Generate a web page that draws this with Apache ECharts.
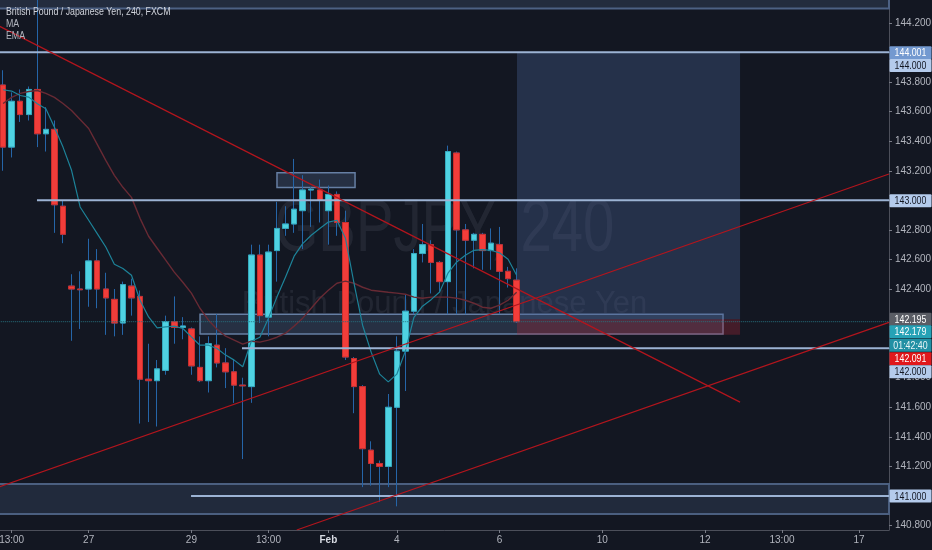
<!DOCTYPE html>
<html><head><meta charset="utf-8">
<script src="https://cdn.jsdelivr.net/npm/echarts@6/dist/echarts.min.js"></script>
<style>html,body{margin:0;padding:0;background:#131722;}#c{width:932px;height:550px;}</style>
</head><body><div id="c"></div>
<script>
const REG = "'Liberation Sans',Arial,sans-serif";

// x axis (104 candle slots, 4h bars)
const slotCount = 104;
const tickIndex = [1, 10, 22, 31, 38, 46, 58, 70, 82, 91, 100];
const tickLabels = ['13:00', '27', '29', '13:00', 'Feb', '4', '6', '10', '12', '13:00', '17'];

// candles
const open = [143.78,143.36,143.67,143.58,143.75,143.45,143.48,142.96,142.42,142.40,142.40,142.59,142.40,142.33,142.17,142.42,142.35,141.79,141.78,141.85,142.18,142.14,142.13,141.87,141.78,142.02,141.90,141.84,141.75,141.74,142.63,142.21,142.66,142.81,142.84,142.93,143.07,143.07,142.93,143.04,142.85,141.93,141.74,141.31,141.22,141.20,141.60,141.98,142.25,142.64,142.70,142.58,142.45,143.32,142.80,142.73,142.77,142.66,142.70,142.52,142.46];
const close = [143.36,143.67,143.58,143.75,143.45,143.48,142.97,142.77,142.40,142.395,142.59,142.40,142.34,142.17,142.43,142.34,141.79,141.78,141.86,142.18,142.14,142.15,141.88,141.78,142.03,141.90,141.84,141.75,141.745,142.63,142.22,142.65,142.81,142.84,142.94,143.07,143.075,143.00,143.04,142.85,141.94,141.74,141.32,141.22,141.20,141.60,141.98,142.25,142.64,142.70,142.58,142.45,143.33,142.80,142.73,142.77,142.66,142.71,142.52,142.47,142.179];
const low = [143.20,143.29,143.53,143.54,143.36,143.33,142.78,142.71,142.05,142.13,142.28,142.27,142.09,142.08,142.09,142.22,141.49,141.50,141.47,141.82,142.03,142.06,141.82,141.77,141.70,141.87,141.73,141.63,141.25,141.63,142.17,142.08,142.45,142.76,142.78,142.67,142.82,142.85,142.70,142.76,141.92,141.56,141.06,141.07,140.96,141.06,140.93,141.71,142.23,142.58,142.37,142.38,142.23,142.23,142.23,142.54,142.53,142.53,142.23,142.41,142.17];
const high = [143.88,143.73,143.75,143.77,144.40,143.63,143.54,143.00,142.50,142.52,142.74,142.67,142.51,142.40,142.45,142.47,142.39,142.03,141.92,142.22,142.35,142.21,142.14,142.08,142.08,142.23,142.00,141.92,141.80,142.70,142.70,142.70,142.99,142.96,143.28,143.17,143.09,143.14,143.10,143.06,142.93,141.94,141.75,141.37,141.24,141.69,142.08,142.36,142.67,142.84,142.73,142.59,143.37,143.33,142.84,142.78,142.78,142.81,142.82,142.55,142.54];

// indicators
const ma = [143.655,143.696,143.723,143.736,143.743,143.723,143.696,143.655,143.608,143.547,143.486,143.378,143.270,143.169,143.088,143.020,142.878,142.757,142.676,142.595,142.514,142.446,142.372,142.270,142.189,142.128,142.081,142.054,142.027,142.047,142.041,142.054,142.074,142.101,142.149,142.203,142.270,142.338,142.392,142.439,142.453,142.439,142.412,142.392,142.385,142.378,142.372,142.365,142.345,142.338,142.345,142.345,142.345,142.338,142.324,142.304,142.277,142.270,142.291,142.324,142.378];
const ema = [143.748,143.739,143.709,143.698,143.653,143.620,143.495,143.360,143.203,142.955,142.865,142.775,142.684,142.568,142.539,142.493,142.324,142.211,142.137,142.144,142.149,142.133,142.076,142.020,142.020,141.998,141.953,141.919,141.874,142.047,142.074,142.203,142.347,142.482,142.622,142.707,142.764,142.809,142.853,142.865,142.743,142.439,142.155,141.973,141.824,141.772,141.824,141.980,142.209,142.284,142.328,142.380,142.510,142.583,142.628,142.662,142.666,142.662,142.645,142.601,142.493];

// price scale
const yMin = 140.770, yMax = 144.355;
const priceTicks = [140.8, 141.0, 141.2, 141.4, 141.6, 141.8, 142.0, 142.4, 142.6, 142.8, 143.0, 143.2, 143.4, 143.6, 143.8, 144.0, 144.2];

// drawings (x in bar-index units, y in price)
const hLevels = [144.001, 143.000, 142.000, 141.000];
const hStarts = [-0.5, 3.96, 27.91, 21.96];
const trendLines = [
  [-0.5, 144.180, 86.10, 141.635],
  [-0.5, 141.061, 103.5, 143.178],
  [34.31, 140.770, 103.5, 142.174]
];
const boxes = [
  [-0.6, 103.5, 144.60, 144.297],
  [-0.6, 103.5, 141.081, 140.878],
  [23.01, 84.11, 142.230, 142.095],
  [32.00, 41.12, 143.187, 143.086],
  [60.04, 86.10, 144.000, 142.195],
  [60.04, 86.10, 142.195, 142.091]
];
const lastPrice = 142.179;
const tagValues = [144.001, 144.000, 143.000, 142.195, 142.179, 142.179, 142.091, 142.000, 141.000];
const tagTexts = ['144.001', '144.000', '143.000', '142.195', '142.179', '01:42:40', '142.091', '142.000', '141.000'];

// ---- styles ----
const boxStyles = [
  {fill: '#232c3e', stroke: '#4d6184', lineWidth: 2},
  {fill: '#212a3c', stroke: '#4b5f80', lineWidth: 2},
  {fill: 'rgba(110,140,185,0.22)', stroke: '#667fa4', lineWidth: 1.5},
  {fill: 'rgba(110,140,185,0.22)', stroke: '#667fa4', lineWidth: 1.5},
  {fill: 'rgba(72,98,150,0.35)', stroke: null, lineWidth: 0},
  {fill: 'rgba(175,40,55,0.32)', stroke: null, lineWidth: 0}
];
const tagShift = [0.5, 13, 0.5, 0, 10, 23.5, 24, 23.5, 0];
const tagStyle = [
  {bg: '#7399d0', fg: '#ffffff'},
  {bg: '#b4cbec', fg: '#131722'},
  {bg: '#b4cbec', fg: '#131722'},
  {bg: '#5a5d65', fg: '#ffffff'},
  {bg: '#26a2b6', fg: '#ffffff'},
  {bg: '#2290a4', fg: '#e8f4f6'},
  {bg: '#e0181c', fg: '#ffffff'},
  {bg: '#b4cbec', fg: '#131722'},
  {bg: '#b4cbec', fg: '#131722'}
];

const categories = Array.from({length: slotCount}, (_, i) => {
  const k = tickIndex.indexOf(i);
  return k >= 0 ? tickLabels[k] : '';
});
const candles = open.map((o, i) => [o, close[i], low[i], high[i]]);
const bodies = open.map((o, i) => [o, close[i], Math.min(o, close[i]), Math.max(o, close[i])]);

const chart = echarts.init(document.getElementById('c'), null, {renderer: 'canvas'});

const series = [];
// boxes
series.push({
  type: 'custom', xAxisIndex: 1, yAxisIndex: 0, z: 1, clip: true, silent: true,
  data: boxes,
  renderItem: function (params, api) {
    const i = params.dataIndex;
    const p1 = api.coord([api.value(0), api.value(2)]);
    const p2 = api.coord([api.value(1), api.value(3)]);
    const cs = params.coordSys;
    const shape = echarts.graphic.clipRectByRect(
      {x: p1[0], y: p1[1], width: p2[0] - p1[0], height: p2[1] - p1[1]},
      {x: cs.x - 3, y: cs.y - 3, width: cs.width + 3, height: cs.height + 3});
    if (!shape) return null;
    return {type: 'rect', shape: shape, style: boxStyles[i]};
  }
});
// wicks
series.push({
  type: 'candlestick', xAxisIndex: 0, yAxisIndex: 0, z: 3, barWidth: 6, silent: true,
  data: candles,
  itemStyle: {color: 'transparent', color0: 'transparent', borderColor: '#2565a8', borderColor0: '#2565a8', borderWidth: 1}
});
// bodies
series.push({
  type: 'candlestick', xAxisIndex: 0, yAxisIndex: 0, z: 4, barWidth: 6, silent: true,
  data: bodies,
  itemStyle: {color: '#4fd2e2', color0: '#f23d3a', borderColor: '#36aabd', borderColor0: '#c92e2c', borderWidth: 1}
});
// MA / EMA
series.push({type: 'line', xAxisIndex: 0, yAxisIndex: 0, z: 5, data: ma, showSymbol: false, silent: true,
  lineStyle: {color: '#682a34', width: 1.4}});
series.push({type: 'line', xAxisIndex: 0, yAxisIndex: 0, z: 5, data: ema, showSymbol: false, silent: true,
  lineStyle: {color: '#1d8399', width: 1.2}});
// current price dotted line
series.push({type: 'line', xAxisIndex: 1, yAxisIndex: 0, z: 6, showSymbol: false, silent: true,
  data: [[-0.5, lastPrice], [103.5, lastPrice]],
  lineStyle: {color: '#27717f', width: 1, type: 'dotted'}});
// horizontal levels
hLevels.forEach((v, i) => {
  series.push({type: 'line', xAxisIndex: 1, yAxisIndex: 0, z: 7, showSymbol: false, silent: true,
    data: [[hStarts[i], v], [103.5, v]],
    lineStyle: {color: '#9cb3d4', width: 2}});
});
// trend lines
trendLines.forEach(t => {
  series.push({type: 'line', xAxisIndex: 1, yAxisIndex: 0, z: 8, showSymbol: false, silent: true,
    data: [[t[0], t[1]], [t[2], t[3]]],
    lineStyle: {color: '#b3151d', width: 1.2}});
});
// price tags on the scale
series.push({
  type: 'custom', xAxisIndex: 1, yAxisIndex: 0, z: 20, clip: false, silent: true,
  data: tagValues.map(v => [103.5, v]),
  renderItem: function (params, api) {
    const i = params.dataIndex;
    const cs = params.coordSys;
    const y = api.coord([api.value(0), api.value(1)])[1] + tagShift[i];
    const x0 = cs.x + cs.width + 0.5;
    return {type: 'group', children: [
      {type: 'rect', shape: {x: x0, y: y - 6.5, width: 42, height: 13, r: 1}, style: {fill: tagStyle[i].bg}},
      {type: 'text', x: x0 + 21, y: y + 0.5, scaleX: 0.8,
        style: {text: tagTexts[i], x: 0, y: 0, align: 'center', verticalAlign: 'middle',
        fill: tagStyle[i].fg, font: '11px ' + REG}}
    ]};
  }
});

chart.setOption({
  backgroundColor: '#131722',
  animation: false,
  grid: {left: -1.2, right: 43, top: 0, bottom: 20, containLabel: false, outerBoundsMode: 'none'},
  xAxis: [
    {type: 'category', data: categories, boundaryGap: true,
      axisLine: {show: true, onZero: false, lineStyle: {color: '#4c4f5a', width: 1}},
      axisTick: {show: true, alignWithLabel: true, length: 3, interval: (i) => tickIndex.indexOf(i) >= 0,
        lineStyle: {color: '#787b86'}},
      axisLabel: {show: true, interval: 0, margin: 5, color: '#b2b5be', fontSize: 10, fontFamily: REG,
        formatter: (v) => v === 'Feb' ? '{b|Feb}' : v,
        rich: {b: {fontWeight: 'bold', color: '#d8dbe3', fontSize: 10, fontFamily: REG}}},
      splitLine: {show: false}},
    {type: 'value', min: -0.5, max: slotCount - 0.5, show: false, splitLine: {show: false},
      axisLine: {onZero: false}}
  ],
  yAxis: [{
    type: 'value', position: 'right', min: yMin, max: yMax, scale: true,
    axisLine: {show: true, onZero: false, lineStyle: {color: '#4c4f5a', width: 1}},
    axisTick: {show: true, length: 3, customValues: priceTicks, lineStyle: {color: '#787b86'}},
    axisLabel: {show: true, customValues: priceTicks, margin: 6, color: '#b2b5be', fontSize: 10, fontFamily: REG,
      formatter: (v) => Number(v).toFixed(3)},
    splitLine: {show: false}
  }],
  graphic: [
    {type: 'text', x: 444.5, y: 231, scaleX: 0.76, z: -10, silent: true,
      style: {text: 'GBPJPY, 240', font: '74px ' + REG, fill: 'rgba(190,200,220,0.09)', align: 'center', verticalAlign: 'middle'}},
    {type: 'text', x: 444.5, y: 304, z: -10, silent: true,
      style: {text: 'British Pound / Japanese Yen', font: '31px ' + REG, fill: 'rgba(190,200,220,0.09)', align: 'center', verticalAlign: 'middle'}},
    {type: 'text', x: 6, y: 12, scaleX: 0.8, z: 30, silent: true,
      style: {text: 'British Pound / Japanese Yen, 240, FXCM', font: '11px ' + REG, fill: '#d1d4dc', verticalAlign: 'middle'}},
    {type: 'text', x: 6, y: 24, scaleX: 0.8, z: 30, silent: true,
      style: {text: 'MA', font: '11px ' + REG, fill: '#b2b5be', verticalAlign: 'middle'}},
    {type: 'text', x: 6, y: 36, scaleX: 0.8, z: 30, silent: true,
      style: {text: 'EMA', font: '11px ' + REG, fill: '#b2b5be', verticalAlign: 'middle'}}
  ],
  series: series
});
</script></body></html>
